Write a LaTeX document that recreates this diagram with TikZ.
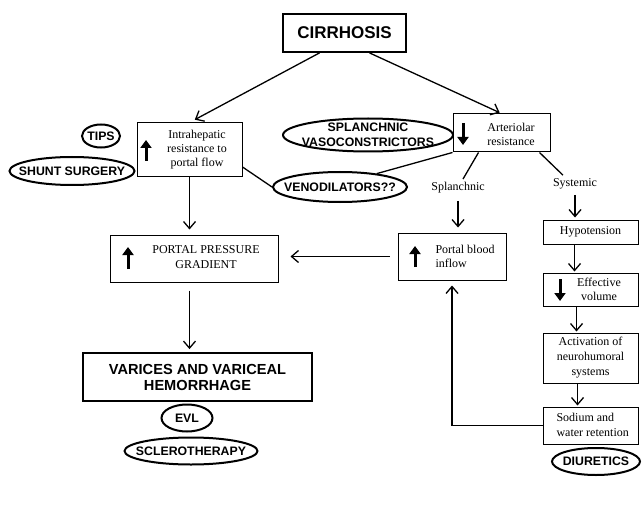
\documentclass[tikz,border=0pt]{standalone}
\usepackage{fontspec}
\setmainfont{Liberation Serif}
\setsansfont{Liberation Sans}
\usetikzlibrary{arrows.meta, shapes.geometric}

\tikzset{
	box/.style={draw, line width=1pt, inner sep=0pt},
	oval/.style={draw, ellipse, line width=2pt, inner sep=0pt},
	ovaltext/.style={font=\sffamily\bfseries\fontsize{12.3}{14}\selectfont, align=center},
	small/.style={font=\fontsize{12}{14}\selectfont, align=center},
	arr/.style={line width=1.3pt, -{Straight Barb[length=7pt, width=12pt]}},
	updown/.style={line width=3pt, -{Triangle[length=8pt, width=11pt]}},
	plain/.style={line width=1.3pt}
}

\begin{document}
\begin{tikzpicture}[x=1pt, y=-1pt]
	\useasboundingbox (0,0) rectangle (642,505);

	\node[box, line width=1.8pt, minimum width=123, minimum height=38, font=\sffamily\bfseries\fontsize{17}{20}\selectfont] (cirr) at (344.5,33) {CIRRHOSIS};

	\node[box, minimum width=105, minimum height=54] (ihr) at (189.5,150) {};
	\node[small] (ihrtext) at (197,150) {Intrahepatic\\resistance to\\portal flow};
	\draw[updown] (146,161) -- (146,140);

	\node[box, minimum width=97, minimum height=38] (art) at (501.5,133) {};
	\node[small] (arttext) at (511,134) {Arteriolar\\resistance};
	\draw[updown] (463,123) -- (463,145);

	\node[oval, minimum width=38, minimum height=23, label={[ovaltext]center:TIPS}] (tips) at (101,136) {};
	\node[oval, minimum width=125, minimum height=28, label={[ovaltext]center:SHUNT SURGERY}] (shunt) at (72,171) {};
	\node[oval, minimum width=170, minimum height=33, label={[ovaltext, font=\sffamily\bfseries\fontsize{12.3}{15}\selectfont]center:SPLANCHNIC\\VASOCONSTRICTORS}] (vaso) at (368,135) {};
	\node[oval, minimum width=134, minimum height=30, label={[ovaltext]center:VENODILATORS??}] (veno) at (340,187) {};

	\node[small] (spl) at (458,188) {Splanchnic};
	\node[small] (sys) at (575,184) {Systemic};

	\node[box, minimum width=108, minimum height=47] (pbi) at (452,256.5) {};
	\node[small, align=left, anchor=west] (pbitext) at (432,256) {Portal blood\\inflow};
	\draw[updown] (415,267) -- (415,246);

	\node[box, minimum width=168, minimum height=47] (ppg) at (194,258.5) {};
	\node[small, font=\fontsize{12}{15}\selectfont] (ppgtext) at (206,257) {PORTAL PRESSURE\\GRADIENT};
	\draw[updown] (128,269) -- (128,247);

	\node[box, line width=1.8pt, minimum width=229, minimum height=48, align=center, font=\sffamily\bfseries\fontsize{14.6}{16}\selectfont] (var) at (197.5,377) {VARICES AND VARICEAL\\HEMORRHAGE};
	\node[oval, minimum width=51, minimum height=27, label={[ovaltext]center:EVL}] (evl) at (187,418) {};
	\node[oval, minimum width=133, minimum height=27, label={[ovaltext]center:SCLEROTHERAPY}] (scl) at (191,451) {};

	\node[box, small, minimum width=95, minimum height=24] (hyp) at (590.5,232) {Hypotension};
	\node[box, minimum width=95, minimum height=33] (eff) at (590.5,289.5) {};
	\node[small] (efftext) at (599,289) {Effective\\volume};
	\draw[updown] (560,279) -- (560,301);
	\node[box, small, minimum width=95, minimum height=50, font=\fontsize{12}{15}\selectfont] (act) at (590.5,358) {Activation of\\neurohumoral\\systems};
	\node[box, minimum width=95, minimum height=37] (sod) at (590.5,425.5) {};
	\node[small, align=left, anchor=west, font=\fontsize{12}{15}\selectfont] (sodtext) at (553,425) {Sodium and\\water retention};
	\node[oval, minimum width=88, minimum height=27, label={[ovaltext]center:DIURETICS}] (diur) at (596,461.5) {};

	\draw[arr, shorten >=6pt] ([xshift=-25pt]cirr.south) -- (ihr.north);
	\draw[arr, shorten >=2pt] ([xshift=25pt]cirr.south) -- (art.north);
	\draw[plain] ([yshift=-17pt]ihr.east) -- (veno.west);
	\draw[plain] (veno.20) -- (art.south west);
	\draw[plain] ([xshift=-23pt]art.south) -- ([xshift=5pt]spl.north);
	\draw[plain] ([xshift=38pt]art.south) -- ([xshift=-12pt]sys.north);
	\draw[arr, shorten <=4pt, shorten >=5pt] (spl.south) -- (spl.south |- pbi.north);
	\draw[arr, shorten <=2pt, shorten >=2pt] (sys.south) -- (sys.south |- hyp.north);
	\draw[arr, shorten >=5pt] (ihr.south) -- (ihr.south |- ppg.north);
	\draw[arr, shorten <=8pt, shorten >=12pt] (pbi.west) -- (pbi.west -| ppg.east);
	\draw[arr, shorten <=8pt, shorten >=3pt] (ppg.south -| ihr.south) -- (ihr.south |- var.north);
	\draw[arr, shorten >=1pt] ([xshift=-16pt]hyp.south) -- ([xshift=-16pt]eff.north);
	\draw[arr, shorten >=1pt] ([xshift=-14pt]eff.south) -- ([xshift=-14pt]act.north);
	\draw[arr, shorten >=1pt] ([xshift=-13pt]act.south) -- ([xshift=-13pt]sod.north);
	\draw[arr, shorten >=5pt] (sod.west) -| (pbi.south);
\end{tikzpicture}
\end{document}
